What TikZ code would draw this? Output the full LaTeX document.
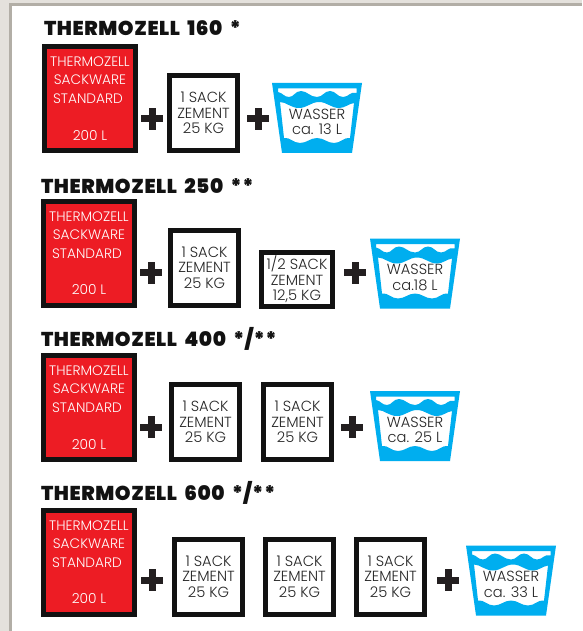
\documentclass[tikz,border=0pt]{standalone}
\usepackage{fontspec}
\setmainfont{Poppins Light}
\newfontfamily\titlefont{Poppins Black}[LetterSpace=3, WordSpace=1.8]
\usetikzlibrary{positioning}
\definecolor{sackred}{RGB}{237,28,36}
\definecolor{waterblue}{RGB}{0,174,239}
\definecolor{inkblack}{RGB}{18,18,18}
\definecolor{plusdark}{RGB}{35,31,32}
\definecolor{pagegray}{RGB}{228,225,220}
\definecolor{edgegray}{RGB}{178,174,166}
\begin{document}
\begin{tikzpicture}[
        x=0.75pt, y=-0.75pt,
        titlenode/.style={inner sep=0pt, outer sep=0pt, anchor=west, text=inkblack, font=\fontsize{15}{17}\titlefont},
        redbox/.style={rectangle, draw=inkblack, fill=sackred, line width=3.75pt, outer sep=0pt, inner sep=0pt,
          minimum width=68.25pt, minimum height=78pt},
        redtext/.style={inner sep=0pt, text=white, font=\fontsize{10.3}{11}\selectfont},
        sackbox/.style={rectangle, draw=inkblack, fill=white, line width=3.75pt, outer sep=0pt, inner sep=0pt,
          minimum width=51pt, minimum height=56.25pt, align=center, text=black!85,
          font=\fontsize{11}{11.6}\selectfont},
        halfbox/.style={sackbox, minimum width=53.25pt, minimum height=40.5pt},
        waterbox/.style={rectangle, outer sep=0pt, inner sep=0pt, minimum width=50pt, minimum height=30pt,
          align=center, text=black!85, font=\fontsize{11}{11.8}\selectfont},
        pics/plus/.style={code={
          \fill[plusdark] (-11,-3.5) rectangle (11,3.5);
          \fill[plusdark] (-3.5,-11) rectangle (3.5,11);
        }},
        pics/bucket/.style={code={
          \fill[waterblue, even odd rule] (-45,-35) -- (45,-35) -- (35,35) -- (-35,35) -- cycle
            (-39,-29.5) -- (39.5,-29.5) -- (39.5,-25) .. controls (33,-27) and (32,-21) .. (26,-21)
            .. controls (20,-21) and (19,-27) .. (13,-27) .. controls (7,-27) and (6,-21) .. (0,-21)
            .. controls (-7,-21) and (-10,-27) .. (-16,-27) .. controls (-22,-27) and (-23,-21) .. (-28,-21)
            .. controls (-33,-21) and (-34,-25) .. (-39,-26) -- cycle
            (-37,-16) .. controls (-31,-16) and (-26,-10) .. (-18,-10) .. controls (-10,-10) and (-6,-16) .. (2,-16)
            .. controls (10,-16) and (14,-10) .. (22,-10) .. controls (28,-10) and (31,-14) .. (37,-15)
            -- (33,20) .. controls (27,19) and (24,25) .. (17,25) .. controls (10,25) and (7,20) .. (0,20)
            .. controls (-7,20) and (-10,25) .. (-17,25) .. controls (-24,25) and (-27,19) .. (-33,20) -- cycle;
        }}
      ]
        \fill[pagegray] (0,0) rectangle (582,631);
        \fill[edgegray] (9,3) rectangle (582,631);
        \fill[white] (12,6) rectangle (582,631);

        % row 1
        \node[redbox] (red1) at (90,98.5) {};
        \node[titlenode] (title1) at (44,28.5) {THERMOZELL 160 *};
        \node[sackbox, above right=0pt and 25.5pt of red1.south east] (sack11) {1 SACK\\ZEMENT\\25 KG};
        \node[waterbox] (water1) at (317,122) {WASSER\\ca. 13 L};
        \pic at ([yshift=3pt]water1.center) {bucket};
        \pic at (152,119) {plus};
        \pic at (258,119) {plus};

        % row 2
        \node[redbox] (red2) at (89,253) {};
        \node[titlenode] (title2) at (41,186) {THERMOZELL 250 **};
        \node[sackbox, above right=0pt and 27pt of red2.south east] (sack21) {1 SACK\\ZEMENT\\25 KG};
        \node[halfbox] (half2) at (297,279.5) {1/2 SACK\\ZEMENT\\12,5 KG};
        \node[waterbox] (water2) at (415,277.5) {WASSER\\ca.18 L};
        \pic at ([yshift=3pt]water2.center) {bucket};
        \pic at (151,272.5) {plus};
        \pic at (355,272.5) {plus};

        % row 3
        \node[redbox] (red3) at (89,407.5) {};
        \node[titlenode] (title3) at (41,339) {THERMOZELL 400 */**};
        \node[sackbox, above right=0pt and 27.75pt of red3.south east] (sack31) {1 SACK\\ZEMENT\\25 KG};
        \node[sackbox, right=18pt of sack31] (sack32) {1 SACK\\ZEMENT\\25 KG};
        \node[waterbox] (water3) at (415,430) {WASSER\\ca. 25 L};
        \pic at ([yshift=3pt]water3.center) {bucket};
        \pic at (151,427) {plus};
        \pic at (352,427) {plus};

        % row 4
        \node[redbox] (red4) at (89,562) {};
        \node[titlenode] (title4) at (41,493) {THERMOZELL 600 */**};
        \node[sackbox, above right=0pt and 30pt of red4.south east] (sack41) {1 SACK\\ZEMENT\\25 KG};
        \node[sackbox, right=17.25pt of sack41] (sack42) {1 SACK\\ZEMENT\\25 KG};
        \node[sackbox, right=17.25pt of sack42] (sack43) {1 SACK\\ZEMENT\\25 KG};
        \node[waterbox] (water4) at (511,584.5) {WASSER\\ca. 33 L};
        \pic at ([yshift=3pt]water4.center) {bucket};
        \pic at (152,580) {plus};
        \pic at (448,580) {plus};

        % red box captions
        \foreach \boxname in {red1, red2, red3, red4}{
          \node[redtext, below=11.6pt of \boxname.north, anchor=center] (\boxname a) {THERMOZELL};
          \node[redtext, below=25.2pt of \boxname.north, anchor=center] (\boxname b) {SACKWARE};
          \node[redtext, below=39.4pt of \boxname.north, anchor=center, xshift=-1.5pt] (\boxname c) {STANDARD};
          \node[redtext, below=66.4pt of \boxname.north, anchor=center] (\boxname d) {200 L};
        }
      \end{tikzpicture}
\end{document}
